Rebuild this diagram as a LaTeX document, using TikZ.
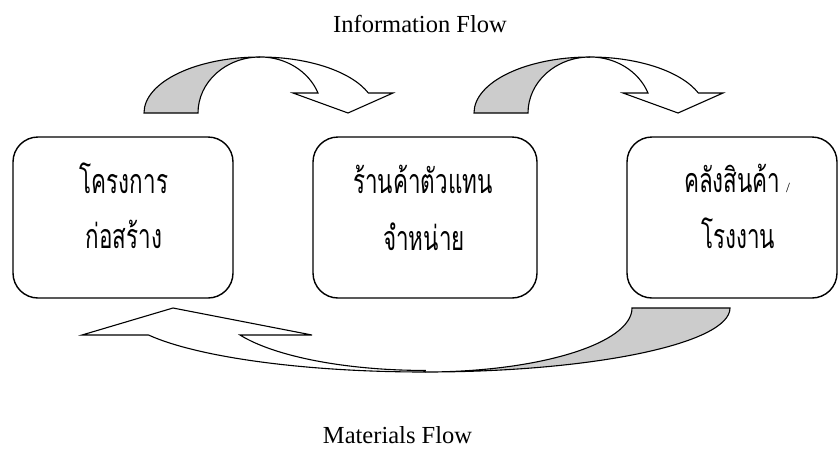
\documentclass[tikz,border=0pt]{standalone}
\usepackage{fontspec}
\setmainfont{Liberation Serif}
\newfontfamily\thaifont[Script=Thai,FakeStretch=0.66]{Loma}
\begin{document}
\begin{tikzpicture}[x=1pt,y=1pt,
  box/.style={draw, line width=1.4pt, rounded corners=25pt, minimum height=161pt, inner sep=0pt},
  thai/.style={font=\thaifont\fontsize{34}{40}\selectfont, inner sep=0pt, anchor=base},
  caption/.style={font=\fontsize{24.5}{28}\selectfont, inner sep=0pt, anchor=base},
  frontband/.style={draw, line width=1.1pt, fill=white, line join=miter},
  backband/.style={draw, line width=1.1pt, fill=black!20, line join=miter}]
\useasboundingbox (0,0) rectangle (840,-448);

% the three parties
\node[box, minimum width=220pt] (proj) at (123,-217.5) {};
\node[box, minimum width=224pt] (shop) at (425,-217.5) {};
\node[box, minimum width=210pt] (plant) at (732,-217.5) {};

\node[thai] (proj1) at (124,-193) {โครงการ};
\node[thai] (proj2) at (124,-248) {ก่อสร้าง};
\node[thai] (shop1) at (423,-193) {ร้านค้าตัวแทน};
\node[thai] (shop2) at (424,-250) {จำหน่าย};
\node[thai] (plant1) at (737,-192) {คลังสินค้า\,{\rmfamily\fontsize{14}{16}\selectfont/}};
\node[thai] (plant2) at (738,-248) {โรงงาน};

% information flow: two curved down arrows
\foreach \dx in {0,330}{
  \begin{scope}[xshift=\dx pt]
    \filldraw[backband] (144,-113)
      arc[start angle=180, end angle=90, x radius=116pt, y radius=56pt]
      arc[start angle=90, end angle=180, x radius=62pt, y radius=56pt] -- cycle;
    \filldraw[frontband] (260,-57)
      arc[start angle=90, end angle=20.9, x radius=116pt, y radius=56pt]
      -- (393,-93) -- (348,-113) -- (293,-93) -- (318,-93)
      arc[start angle=20.9, end angle=90, x radius=62pt, y radius=56pt] -- cycle;
  \end{scope}
}

% materials flow: curved up arrow back to the project
\filldraw[backband] (730,-308)
  arc[start angle=0, end angle=-90, x radius=305pt, y radius=64pt]
  arc[start angle=-90, end angle=0, x radius=207pt, y radius=64pt] -- cycle;
\filldraw[frontband] (425,-372)
  arc[start angle=270, end angle=204.95, x radius=305pt, y radius=64pt]
  -- (82,-335) -- (173,-308) -- (312,-335) -- (240,-335)
  arc[start angle=206.5, end angle=270, x radius=207pt, y radius=64pt] -- cycle;

\node[caption] (info) at (420,-32) {Information Flow};
\node[caption] (mat) at (397.5,-443) {Materials Flow};
\end{tikzpicture}
\end{document}
